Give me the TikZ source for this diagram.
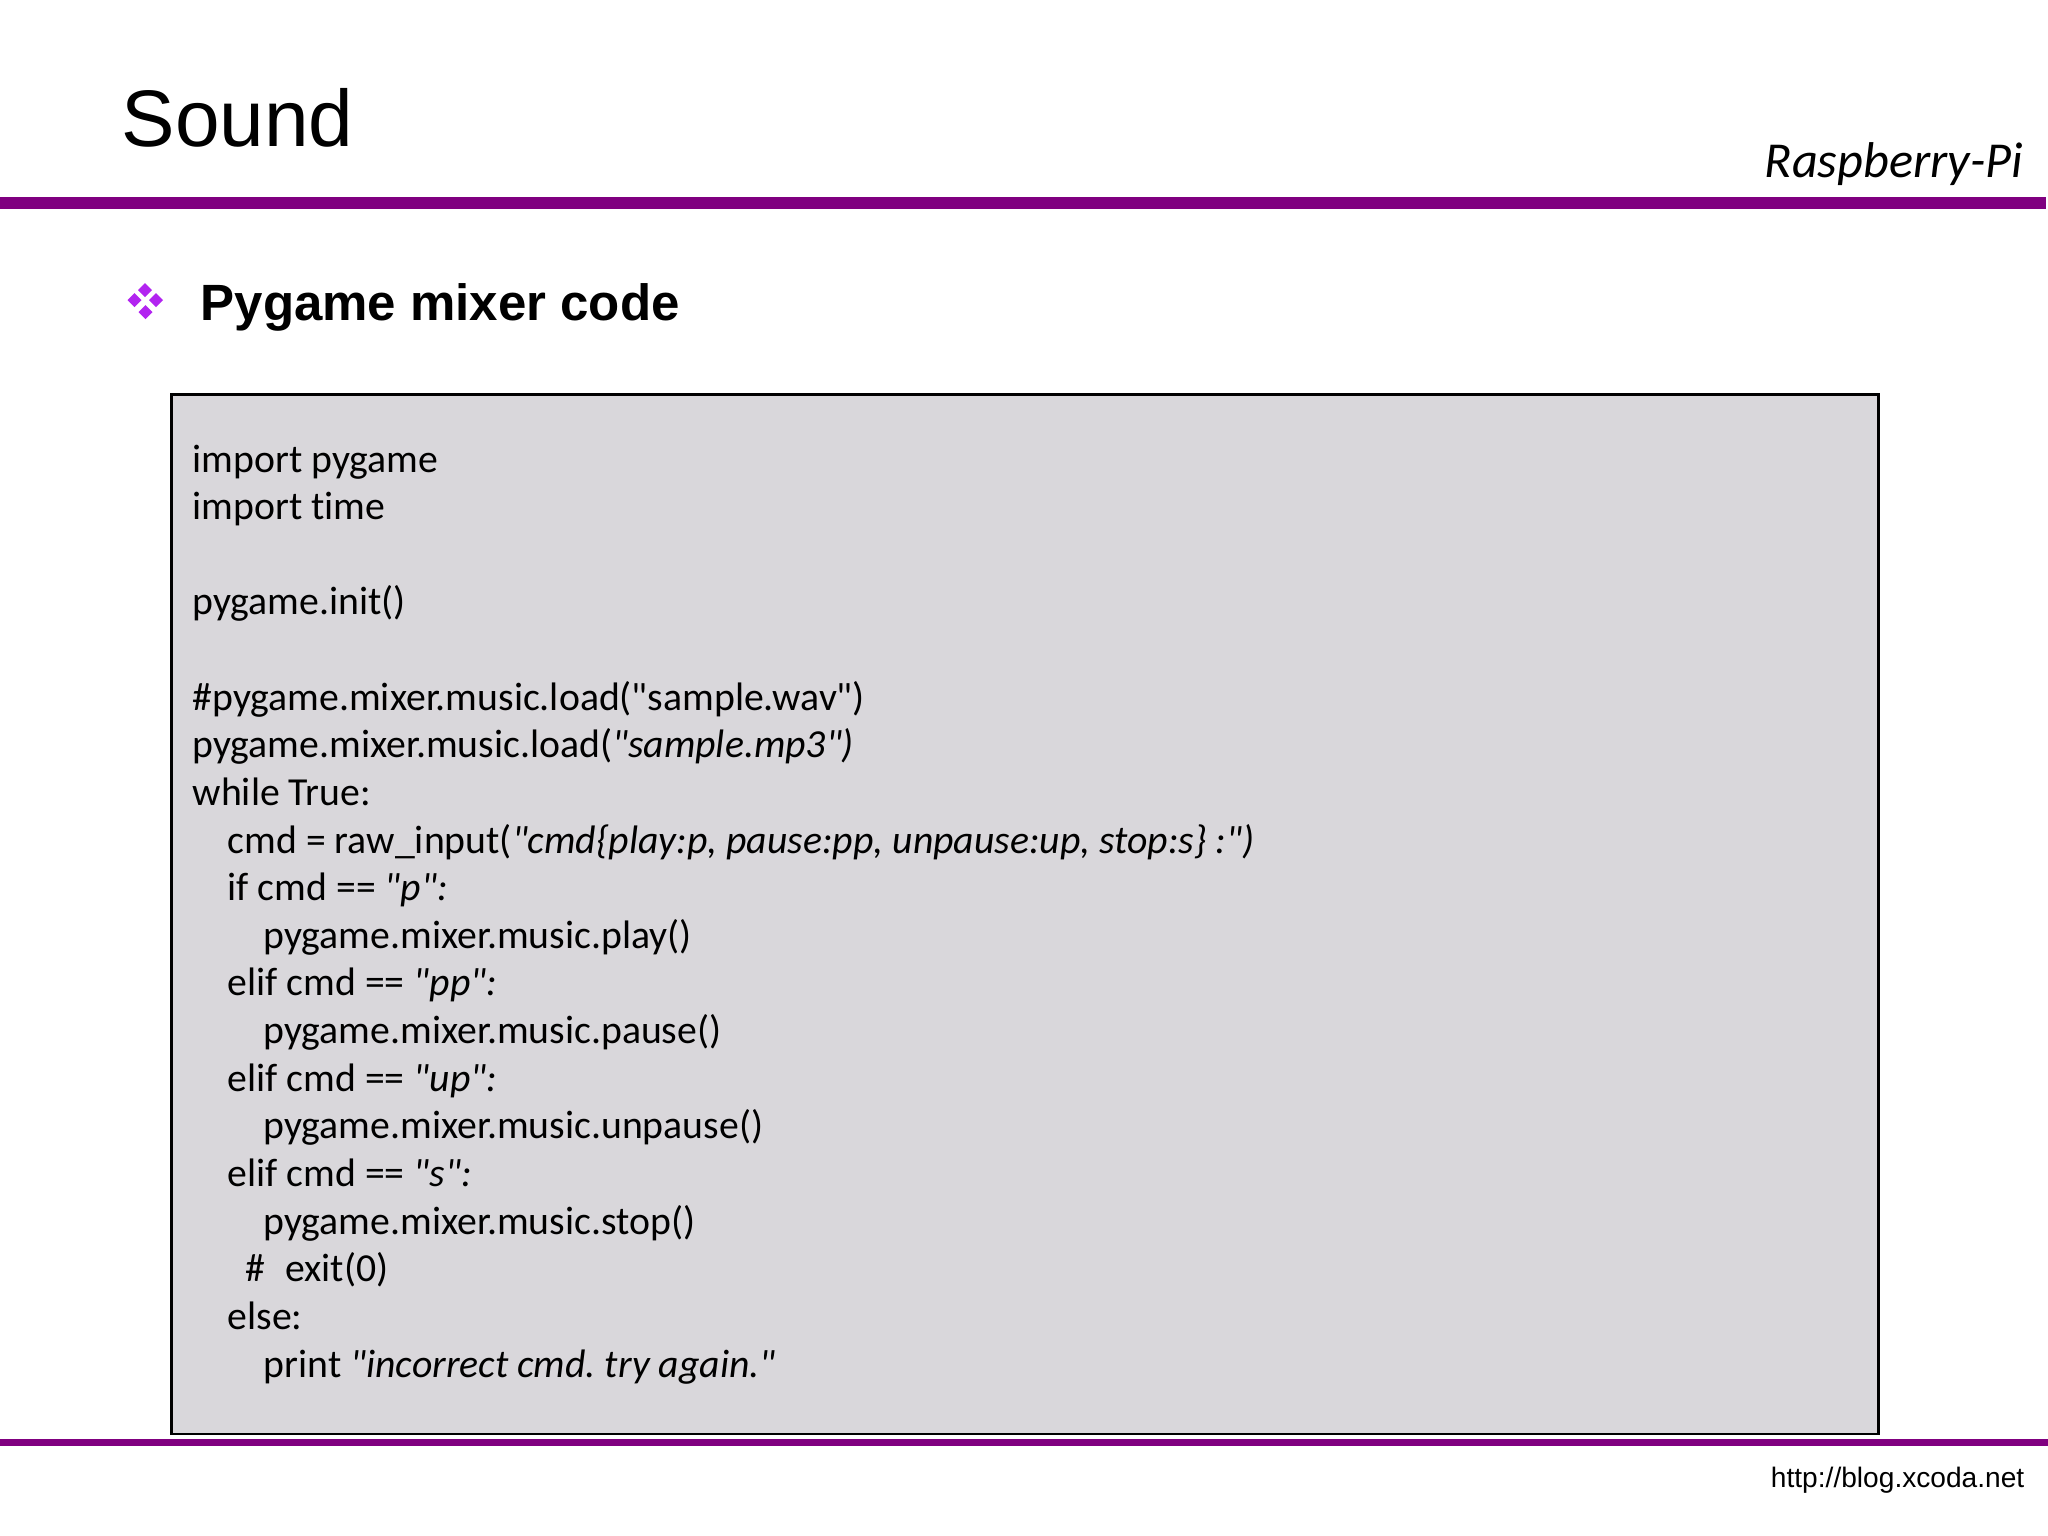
\documentclass[tikz,border=0pt]{standalone}
\usepackage{fontspec}
\setmainfont[Ligatures={NoCommon}]{Carlito}
\newfontfamily\arialfont{Liberation Sans}
\newfontfamily\codefont[Ligatures={NoCommon}]{Carlito}
\definecolor{barpurple}{RGB}{128,0,128}
\definecolor{bulletpurple}{RGB}{178,36,240}
\definecolor{codebg}{RGB}{217,215,219}
\frenchspacing
\tikzset{
  codeline/.style={anchor=base west,inner sep=0pt,font=\codefont\fontsize{11.3}{13.5}\selectfont},
  bar/.style={fill=barpurple},
  diam/.style={fill=bulletpurple}
}
\begin{document}
\begin{tikzpicture}[x=0.01cm,y=-0.01cm]
\useasboundingbox (0,0) rectangle (2048,1536);
\fill[white] (0,0) rectangle (2048,1536);
% bars
\fill[bar] (0,197) rectangle (2046,209);
\fill[bar] (0,1439) rectangle (2048,1446);
% title
\node[anchor=base west,inner sep=0pt,font=\arialfont\fontsize{22.8}{27}\selectfont] (title) at (121,146) {Sound};
\node[anchor=base east,inner sep=0pt,font=\codefont\itshape\fontsize{14.3}{16}\selectfont] (brand) at (2024,177) {Raspberry-Pi};
% bullet
\fill[diam] (145,283) -- (152,290) -- (145,297) -- (138,290) -- cycle;
\fill[diam] (134.5,293) -- (141.5,300) -- (134.5,307) -- (127.5,300) -- cycle;
\fill[diam] (156,293) -- (163,300) -- (156,307) -- (149,300) -- cycle;
\fill[diam] (145.5,305) -- (152.5,312) -- (145.5,319) -- (138.5,312) -- cycle;
\node[anchor=base west,inner sep=0pt,font=\arialfont\bfseries\fontsize{14.5}{17}\selectfont] (heading) at (200,320) {Pygame mixer code};
% code box
\node[draw=black,line width=0.8pt,fill=codebg,inner sep=0pt,minimum width=17.06cm,minimum height=10.39cm,anchor=north west] (box) at (170,393) {};
% code lines
\node[codeline] (c1) at (192,472) {import pygame};
\node[codeline] (c2) at (192,519.6) {import time};
\node[codeline] (c4) at (192,614.9) {pygame.init()};
\node[codeline] (c6) at (192,710.2) {\#pygame.mixer.music.load("sample.wav")};
\node[codeline] (c7) at (192,757.8) {pygame.mixer.music.load(\textit{"sample.mp3")}};
\node[codeline] (c8) at (192,805.4) {while True:};
\node[codeline] (c9) at (227,853.0) {cmd = raw\_input(\textit{"cmd\{play:p, pause:pp, unpause:up, stop:s\} :")}};
\node[codeline] (c10) at (227,900.7) {if cmd == \textit{"p":}};
\node[codeline] (c11) at (263,948.3) {pygame.mixer.music.play()};
\node[codeline] (c12) at (227,995.9) {elif cmd == \textit{"pp":}};
\node[codeline] (c13) at (263,1043.6) {pygame.mixer.music.pause()};
\node[codeline] (c14) at (227,1091.2) {elif cmd == \textit{"up":}};
\node[codeline] (c15) at (263,1138.8) {pygame.mixer.music.unpause()};
\node[codeline] (c16) at (227,1186.4) {elif cmd == \textit{"s":}};
\node[codeline] (c17) at (263,1234.1) {pygame.mixer.music.stop()};
\node[codeline] (c18) at (245,1281.7) {\#\hspace{0.5em}exit(0)};
\node[codeline] (c19) at (227,1329.3) {else:};
\node[codeline] (c20) at (263,1377) {print \textit{"incorrect cmd. try again."}};
% footer
\node[anchor=base east,inner sep=0pt,font=\arialfont\fontsize{8}{9}\selectfont] (url) at (2025,1487) {http://blog.xcoda.net};
\end{tikzpicture}
\end{document}
